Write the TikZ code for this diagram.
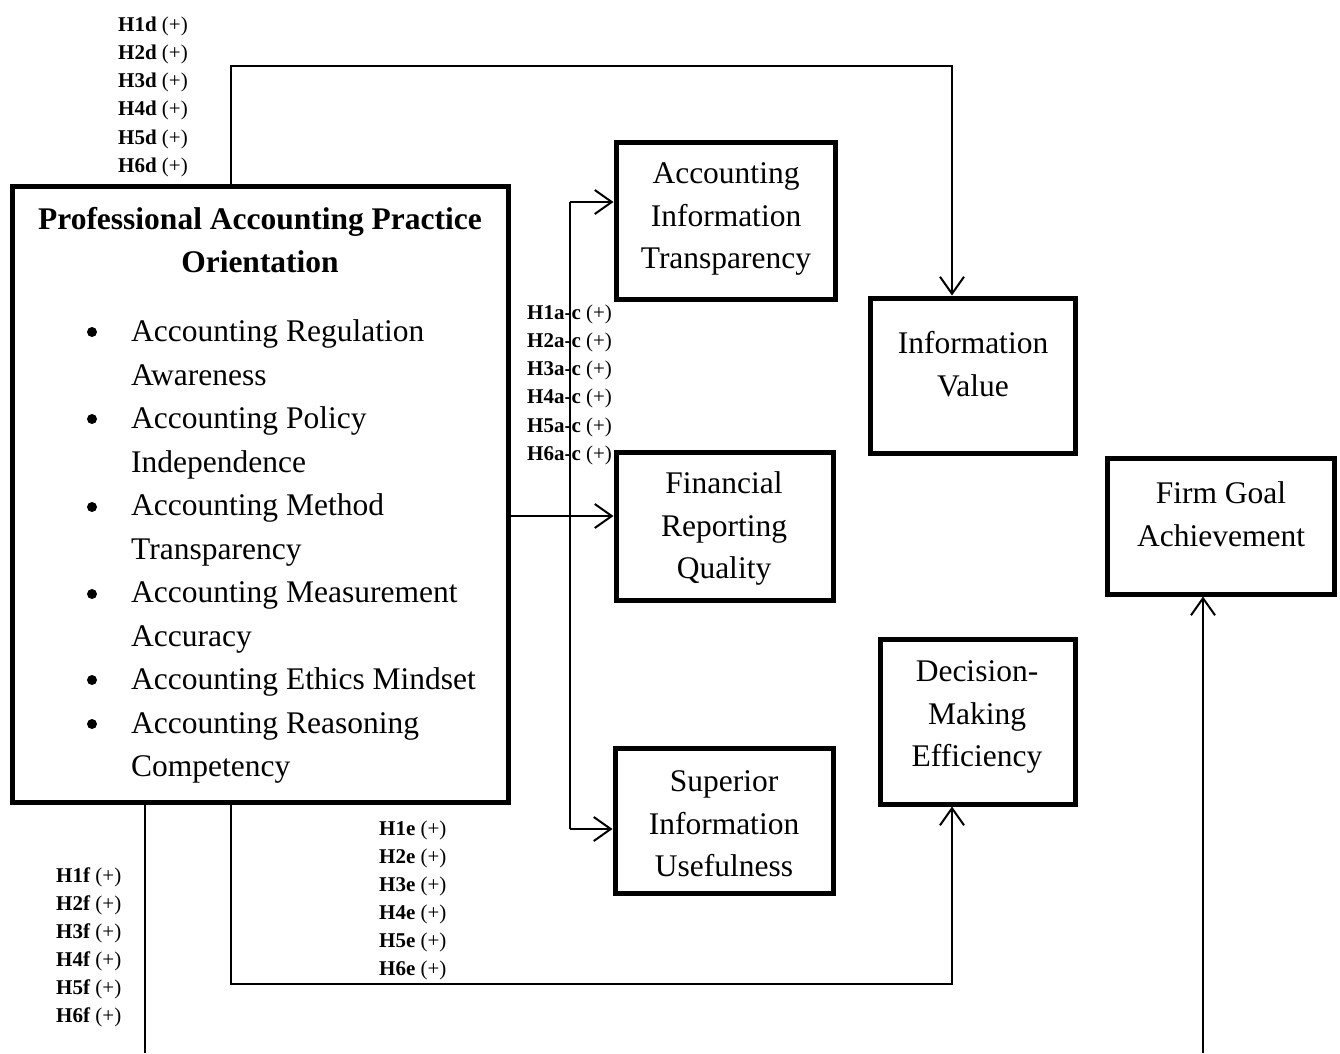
\documentclass[tikz,border=0pt]{standalone}
\usepackage{fontspec}
\setmainfont{Liberation Serif}
\usetikzlibrary{arrows.meta}
\begin{document}
\begin{tikzpicture}[x=1pt,y=-1pt,
  box/.style={draw,line width=5pt,rectangle,inner sep=0pt},
  boxtext/.style={align=center,font=\fontsize{31.5}{42.5}\selectfont,inner sep=0pt},
  conn/.style={line width=2pt,-{Straight Barb[length=17pt,width=24pt,line width=2pt]}},
  plain/.style={line width=2pt},
  dot/.style={circle,fill,inner sep=0pt,minimum size=10pt},
  lab/.style={anchor=west,inner sep=0pt,font=\fontsize{21}{28.3}\selectfont,align=left}]
\useasboundingbox (0,0) rectangle (1340,1053);
% boxes
\node[box,minimum width=496pt,minimum height=616pt] (pap) at (260,494) {};
\node[box,minimum width=219pt,minimum height=157pt] (ait) at (725.5,220.5) {};
\node[box,minimum width=205pt,minimum height=155pt] (iv) at (972.5,375.5) {};
\node[box,minimum width=217pt,minimum height=148pt] (frq) at (724.5,526) {};
\node[box,minimum width=195pt,minimum height=165pt] (dme) at (977.5,721.5) {};
\node[box,minimum width=218pt,minimum height=145pt] (siu) at (724,820.5) {};
\node[box,minimum width=227pt,minimum height=136pt] (fga) at (1220.5,526) {};
% box texts
\node[boxtext,font=\fontsize{31.5}{43}\selectfont\bfseries] (papt) at (260,240.5) {Professional Accounting Practice\\Orientation};
\node[boxtext,align=left,anchor=west,font=\fontsize{31.5}{43.5}\selectfont] (papl) at (131,551.5) {Accounting Regulation\\Awareness\\Accounting Policy\\Independence\\Accounting Method\\Transparency\\Accounting Measurement\\Accuracy\\Accounting Ethics Mindset\\Accounting Reasoning\\Competency};
\foreach \y [count=\i] in {331,418,506,593,679,723}
  \node[dot] (b\i) at (92,\y+1) {};
\node[boxtext] (aitt) at (726,219) {Accounting\\Information\\Transparency};
\node[boxtext] (ivt) at (973,364) {Information\\Value};
\node[boxtext] (frqt) at (724,528.5) {Financial\\Reporting\\Quality};
\node[boxtext] (dmet) at (977,717) {Decision-\\Making\\Efficiency};
\node[boxtext] (siut) at (724,824) {Superior\\Information\\Usefulness};
\node[boxtext] (fgat) at (1221,514) {Firm Goal\\Achievement};
% connector coordinates
\coordinate (dtop) at (231,66);
\coordinate (dright) at (952,66);
\coordinate (btop) at (570,202);
\coordinate (bbot) at (570,829);
\coordinate (ebot) at (231,984);
\coordinate (eright) at (952,984);
\coordinate (fend) at (145,1053);
\coordinate (gend) at (1203,1053);
% connectors
\draw[conn] (pap.north -| dtop) -- (dtop) -- (dright) -- (iv.north -| dright);
\draw[conn] (pap.east |- 0,516) -- (frq.west |- 0,516);
\draw[plain] (btop) -- (bbot);
\draw[conn] (btop) -- (ait.west |- btop);
\draw[conn] (bbot) -- (siu.west |- bbot);
\draw[conn] (pap.south -| ebot) -- (ebot) -- (eright) -- (dme.south -| eright);
\draw[plain] (pap.south -| fend) -- (fend);
\draw[conn] (gend) -- (fga.south -| gend);
% labels
\foreach \y [count=\i] in {24,52,80,108,137,165}
  \node[lab] (ld\i) at (118,\y+2) {\textbf{H\i d} (+)};
\foreach \y [count=\i] in {312,340,368,396,425,453}
  \node[lab] (la\i) at (527,\y+2) {\textbf{H\i a-c} (+)};
\foreach \y [count=\i] in {828,856,884,912,940,968}
  \node[lab] (le\i) at (379,\y+2) {\textbf{H\i e} (+)};
\foreach \y [count=\i] in {875,903,931,959,987,1015}
  \node[lab] (lf\i) at (56,\y+2) {\textbf{H\i f} (+)};
\end{tikzpicture}
\end{document}
